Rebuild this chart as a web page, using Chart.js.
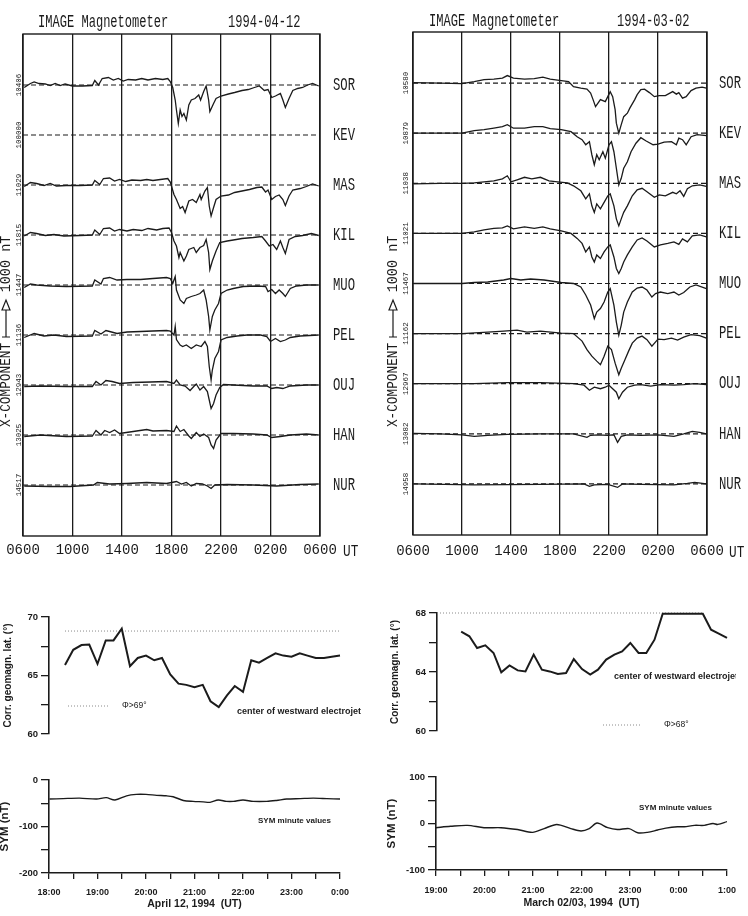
<!DOCTYPE html>
<html><head><meta charset="utf-8">
<script src="https://cdn.jsdelivr.net/npm/chart.js@4.4.1/dist/chart.umd.min.js"></script>
<style>
html,body{margin:0;padding:0;background:#fff}
body{width:748px;height:916px;position:relative;overflow:hidden}
canvas{position:absolute}
</style></head><body>
<canvas id="magApr" width="374" height="570" style="left:0;top:0"></canvas>
<canvas id="magMar" width="374" height="570" style="left:374px;top:0"></canvas>
<canvas id="latApr" width="374" height="160" style="left:0;top:595px"></canvas>
<canvas id="symApr" width="374" height="146" style="left:0;top:770px"></canvas>
<canvas id="latMar" width="374" height="160" style="left:374px;top:590px"></canvas>
<canvas id="symMar" width="374" height="151" style="left:374px;top:765px"></canvas>
<script>
// ---------------- data ----------------
const stations = ['SOR','KEV','MAS','KIL','MUO','PEL','OUJ','HAN','NUR'];
const aprBaseNums = ['10406','100000','11029','11815','11447','11136','12943','13025','14517'];
const marBaseNums = ['10580','10879','11038','11021','11467','11162','12967','13082','14958'];
const hourTicks = [0,4,8,12,16,20,24];            // hours after 06 UT
const hourLabels = ['0600','1000','1400','1800','2200','0200','0600'];
const STEP = 1000;                                  // nT between station baselines

// X-component deviations, [hours after 06 UT, nT]
const aprSOR = [[0.1,-50],[0.6,30],[0.9,60],[1.3,30],[1.8,20],[2.2,-10],[2.6,30],[3.0,-10],[3.4,20],[4.0,-20],[4.8,-20],[5.6,-10],[5.8,90],[6.1,0],[6.4,130],[6.9,150],[7.3,100],[7.7,130],[8.1,80],[8.5,110],[9.1,100],[9.6,130],[10.1,100],[10.7,130],[11.3,110],[11.7,130],[11.9,70],[12.1,-50],[12.3,-300],[12.4,-500],[12.55,-770],[12.7,-500],[12.85,-630],[13.0,-570],[13.2,-700],[13.4,-400],[13.6,-300],[13.9,-270],[14.2,-200],[14.35,-300],[14.6,-130],[14.8,-20],[15.0,-300],[15.1,-530],[15.4,-370],[15.6,-270],[16.0,-220],[16.6,-180],[17.1,-150],[17.7,-110],[18.2,-90],[18.7,-50],[19.1,-20],[19.5,-110],[19.8,-90],[20.1,-250],[20.4,-220],[20.8,-170],[21.0,-300],[21.2,-450],[21.5,-270],[21.8,-110],[22.2,-70],[22.6,-50],[23.0,0],[23.4,30],[23.9,-20]];
const aprKEV = [];
const aprMAS = [[0.1,-30],[0.6,50],[1.1,30],[1.7,-10],[2.2,30],[2.7,-20],[3.5,-10],[4.6,-10],[5.6,0],[5.8,90],[6.2,10],[6.5,130],[7.0,140],[7.4,80],[7.8,110],[8.3,70],[8.8,100],[9.5,90],[10.0,110],[10.5,90],[11.1,110],[11.7,130],[11.9,60],[12.2,-190],[12.4,-290],[12.7,-470],[12.9,-430],[13.1,-550],[13.4,-320],[13.7,-290],[14.0,-350],[14.3,-190],[14.4,-290],[14.7,-120],[14.9,-50],[15.05,-420],[15.2,-620],[15.4,-450],[15.6,-290],[16.0,-220],[16.6,-200],[17.1,-150],[17.7,-120],[18.3,-90],[18.9,-50],[19.3,-40],[19.6,-140],[19.8,-100],[20.1,-290],[20.4,-230],[20.7,-200],[21.0,-290],[21.2,-410],[21.5,-220],[21.8,-100],[22.4,-70],[22.9,-30],[23.4,20],[23.9,-20]];
const aprKIL = [[0.1,-20],[0.6,50],[1.1,30],[1.8,-10],[2.5,10],[3.3,-20],[4.6,-10],[5.6,0],[5.8,100],[6.2,10],[6.5,130],[7.0,140],[7.4,80],[7.8,110],[8.4,80],[8.9,110],[9.6,90],[10.1,130],[10.8,100],[11.3,130],[11.8,140],[12.0,50],[12.2,-120],[12.4,-220],[12.6,-450],[12.7,-350],[13.0,-520],[13.2,-420],[13.4,-290],[13.8,-250],[14.0,-350],[14.3,-250],[14.6,-210],[14.8,-90],[15.0,-350],[15.1,-690],[15.3,-520],[15.6,-320],[15.9,-150],[16.5,-120],[17.0,-100],[17.7,-70],[18.6,-50],[19.3,-30],[19.6,-120],[19.9,-220],[20.2,-190],[20.5,-290],[20.8,-120],[21.0,-250],[21.2,-370],[21.5,-90],[22.0,-30],[22.6,-10],[23.3,30],[23.9,-10]];
const aprMUO = [[0.1,-50],[0.6,20],[1.1,0],[2.2,-20],[3.5,-30],[5.6,-20],[5.8,100],[6.3,20],[6.5,130],[7.0,150],[7.6,100],[8.4,110],[9.5,110],[10.5,130],[11.6,150],[11.9,130],[12.1,30],[12.3,170],[12.4,-100],[12.7,-300],[13.0,-370],[13.2,-270],[13.6,-230],[14.0,-200],[14.3,-170],[14.6,-100],[14.8,-300],[15.0,-630],[15.1,-900],[15.3,-630],[15.5,-500],[15.8,-370],[16.0,-170],[16.5,-100],[17.0,-70],[17.8,-30],[18.9,-20],[19.6,-30],[19.8,-130],[20.1,-90],[20.4,-170],[20.7,-100],[21.0,-170],[21.2,-230],[21.6,-70],[22.1,-20],[22.9,0],[23.9,0]];
const aprPEL = [[0.1,-50],[0.9,30],[1.7,-20],[2.5,0],[3.5,-30],[5.6,-20],[5.8,90],[6.3,20],[6.7,90],[7.0,70],[7.6,30],[8.4,60],[9.5,70],[10.5,80],[11.6,90],[11.9,80],[12.2,0],[12.3,170],[12.4,-90],[12.7,-200],[12.9,-230],[13.2,-200],[13.6,-270],[14.0,-200],[14.4,-230],[14.7,-130],[14.9,-230],[15.05,-630],[15.2,-900],[15.3,-700],[15.5,-470],[15.8,-330],[16.0,-100],[16.5,-50],[17.3,-20],[18.1,0],[19.2,0],[19.7,-30],[20.0,-130],[20.4,-70],[20.8,-130],[21.2,-100],[21.6,-50],[22.4,-20],[23.9,0]];
const aprOUJ = [[0.1,-30],[1.4,-20],[3.5,-30],[5.6,-30],[5.9,70],[6.3,0],[6.7,90],[7.2,70],[7.8,30],[8.9,50],[10.3,60],[11.6,70],[12.2,30],[12.4,100],[12.7,0],[13.1,-20],[13.5,-110],[13.8,-30],[14.0,20],[14.3,-100],[14.6,-30],[14.9,-130],[15.05,-300],[15.2,-470],[15.4,-370],[15.6,-200],[15.9,-50],[16.2,10],[17.0,0],[18.6,-20],[19.7,-20],[20.1,-70],[20.5,-50],[21.0,-70],[21.6,-20],[22.9,0],[23.9,0]];
const aprHAN = [[0.1,-30],[1.4,0],[3.5,-30],[5.6,-20],[5.9,90],[6.3,0],[6.6,90],[7.0,50],[7.4,100],[7.8,30],[8.9,70],[10.0,110],[10.5,80],[11.6,90],[12.2,70],[12.4,180],[12.7,70],[13.0,110],[13.4,-20],[13.6,-70],[14.0,50],[14.3,-30],[14.6,20],[15.0,-50],[15.2,-200],[15.4,-270],[15.6,-100],[16.0,30],[17.0,30],[18.6,20],[19.7,0],[20.1,-50],[20.8,-30],[21.6,0],[22.9,20],[23.9,0]];
const aprNUR = [[0.1,-20],[2.2,-30],[3.8,-30],[5.7,0],[6.0,50],[7.0,20],[8.4,30],[10.0,50],[11.6,30],[12.4,70],[12.8,20],[13.2,50],[13.6,-20],[14.0,30],[14.5,20],[14.9,-20],[15.2,-70],[15.5,0],[16.5,10],[18.6,0],[20.5,-20],[22.4,10],[23.9,20]];

const marSOR = [[0.05,10],[2.2,0],[4.0,-10],[5.0,30],[5.8,70],[6.6,80],[7.3,100],[7.7,150],[8.2,100],[9.1,80],[9.9,90],[10.6,120],[11.2,80],[12.1,50],[12.7,30],[13.1,-70],[13.7,-100],[14.2,-120],[14.5,-200],[14.7,-330],[14.9,-470],[15.1,-400],[15.3,-330],[15.7,-370],[15.9,-270],[16.1,-170],[16.3,-270],[16.5,-530],[16.6,-800],[16.8,-1000],[17.0,-830],[17.2,-670],[17.5,-600],[17.7,-500],[18.1,-330],[18.3,-230],[18.6,-130],[18.9,-120],[19.3,-190],[19.7,-270],[20.1,-250],[20.6,-250],[21.2,-170],[21.5,-220],[21.7,-190],[22.0,-300],[22.3,-270],[22.7,-150],[23.1,-100],[23.6,-80],[23.95,-100]];
const marKEV = [[0.05,0],[2.2,0],[4.0,0],[5.0,50],[5.8,70],[6.6,100],[7.3,130],[7.7,170],[8.2,100],[9.1,100],[9.9,130],[10.6,130],[11.2,90],[12.1,70],[12.9,30],[13.4,-70],[13.8,-130],[14.1,-230],[14.4,-170],[14.6,-430],[14.8,-630],[15.0,-430],[15.2,-530],[15.5,-370],[15.7,-500],[16.0,-230],[16.2,-170],[16.4,-370],[16.6,-700],[16.8,-1030],[17.0,-900],[17.2,-700],[17.5,-570],[17.8,-370],[18.2,-200],[18.6,-90],[19.0,-150],[19.6,-230],[20.0,-220],[20.5,-180],[21.1,-170],[21.5,-230],[21.7,-100],[22.0,-130],[22.3,-230],[22.7,-70],[23.2,-30],[23.95,-50]];
const marMAS = [[0.05,-10],[2.2,0],[4.0,0],[5.0,10],[5.8,30],[6.6,50],[7.3,90],[7.7,150],[8.0,30],[8.5,70],[9.1,120],[9.7,90],[10.4,120],[11.1,50],[11.8,30],[12.6,10],[13.1,-50],[13.7,-150],[14.1,-310],[14.4,-210],[14.6,-450],[14.8,-580],[15.0,-410],[15.3,-510],[15.6,-380],[15.9,-250],[16.1,-210],[16.4,-450],[16.6,-710],[16.8,-850],[17.0,-710],[17.2,-580],[17.5,-450],[17.9,-250],[18.3,-130],[18.7,-100],[19.1,-170],[19.7,-280],[20.1,-230],[20.6,-250],[21.2,-180],[21.5,-210],[21.8,-150],[22.1,-260],[22.4,-110],[22.8,-50],[23.4,-30],[23.95,-60]];
const marKIL = [[0.05,0],[4.0,0],[5.0,30],[5.8,70],[6.6,100],[7.3,110],[7.7,150],[8.2,90],[9.1,130],[9.9,100],[10.6,130],[11.2,90],[12.1,50],[12.9,0],[13.4,-100],[13.8,-200],[14.1,-370],[14.4,-270],[14.6,-470],[14.8,-570],[15.0,-430],[15.3,-500],[15.6,-370],[15.9,-270],[16.1,-230],[16.4,-470],[16.6,-700],[16.8,-800],[17.0,-700],[17.2,-570],[17.5,-430],[17.9,-270],[18.3,-130],[18.7,-90],[19.1,-150],[19.7,-270],[20.2,-230],[20.8,-200],[21.3,-170],[21.7,-220],[22.0,-110],[22.4,-170],[22.8,-50],[23.4,-30],[23.95,-70]];
const marMUO = [[0.05,0],[4.0,0],[5.0,20],[6.1,30],[7.4,70],[8.0,100],[8.8,70],[9.6,90],[10.7,70],[12.1,20],[13.1,0],[13.7,-70],[14.1,-230],[14.5,-430],[14.8,-700],[15.0,-570],[15.3,-500],[15.6,-370],[15.9,-170],[16.1,-100],[16.4,-430],[16.6,-770],[16.8,-1030],[17.0,-830],[17.2,-570],[17.5,-370],[17.9,-170],[18.3,-90],[18.7,-70],[19.1,-130],[19.5,-270],[19.8,-200],[20.2,-170],[20.8,-200],[21.3,-170],[21.7,-230],[22.1,-180],[22.6,-70],[23.1,-30],[23.95,-100]];
const marPEL = [[0.05,0],[4.0,0],[6.1,30],[7.4,50],[8.5,70],[9.3,30],[10.4,50],[12.1,10],[13.1,0],[13.8,-150],[14.2,-320],[14.6,-450],[15.0,-550],[15.3,-620],[15.6,-450],[15.9,-250],[16.2,-320],[16.5,-590],[16.8,-820],[17.0,-690],[17.3,-520],[17.6,-350],[17.9,-190],[18.3,-90],[18.7,-50],[19.1,-120],[19.5,-250],[20.0,-110],[20.5,-120],[21.1,-90],[21.6,-130],[22.1,-70],[22.7,-20],[23.4,-40],[23.95,-90]];
const marOUJ = [[0.05,0],[5.0,0],[7.7,20],[10.4,20],[13.1,0],[13.96,-30],[14.4,-130],[14.8,-70],[15.3,-100],[15.7,-70],[16.0,-30],[16.3,-100],[16.6,-170],[16.8,-300],[17.1,-170],[17.5,-70],[18.1,-30],[18.6,-20],[19.4,-50],[20.2,-20],[21.3,-30],[22.1,-20],[23.0,0],[23.95,-20]];
const marHAN = [[0.05,10],[2.2,0],[4.0,-20],[5.0,-50],[6.1,-30],[7.7,-10],[10.4,0],[13.1,0],[14.2,-70],[14.5,-30],[15.1,-20],[15.9,-30],[16.4,-20],[16.7,-170],[17.0,-50],[17.5,-20],[18.6,-30],[20.0,-20],[21.3,-50],[22.1,0],[22.8,50],[23.4,30],[23.95,0]];
const marNUR = [[0.05,0],[5.0,-20],[10.4,-10],[13.96,0],[14.4,-50],[14.8,-20],[15.9,-10],[16.7,-70],[17.1,0],[18.6,-10],[21.3,-20],[22.4,10],[23.0,30],[23.95,0]];

// Electrojet centre latitude (10-min values), UT hours
const aprLatTime = [18.33,18.5,18.67,18.83,19,19.17,19.33,19.5,19.67,19.83,20,20.17,20.33,20.5,20.67,20.83,21,21.17,21.33,21.5,21.67,21.83,22,22.17,22.33,22.5,22.67,22.83,23,23.17,23.33,23.5,23.67,23.83,24];
const aprLat = [65.9,67.2,67.6,67.65,66.0,68.0,68.0,69.0,65.8,66.5,66.7,66.3,66.5,65.1,64.3,64.2,64.0,64.2,62.8,62.3,63.3,64.1,63.6,66.3,66.1,66.5,66.9,66.7,66.6,66.9,66.7,66.5,66.5,66.6,66.7];
const aprLimit = 68.8;
const marLatTime = [19.5,19.67,19.83,20,20.17,20.33,20.5,20.67,20.83,21,21.17,21.33,21.5,21.67,21.83,22,22.17,22.33,22.5,22.67,22.83,23,23.17,23.33,23.5,23.67,23.83,24,24.17,24.33,24.5,24.67,24.83,25];
const marLat = [66.73,66.42,65.63,65.81,65.29,63.98,64.45,64.11,64.04,65.18,64.16,64.04,63.86,63.93,64.88,64.20,63.82,64.16,64.84,65.18,65.40,65.97,65.29,65.29,66.19,67.95,67.95,67.95,67.95,67.95,67.95,66.87,66.60,66.31];
const marLimit = 68;

// SYM-H index
const aprSymTime = [18.01,18.29,18.63,18.98,19.18,19.36,19.6,19.8,20.0,20.22,20.42,20.56,20.77,20.97,21.18,21.32,21.49,21.66,21.8,22.0,22.21,22.49,22.69,22.9,23.18,23.45,23.73,24.0];
const aprSym = [-41,-40,-39,-41,-38,-43,-34,-31,-31,-33,-34,-36,-44,-46,-47,-48,-43,-46,-46,-43,-46,-46,-44,-41,-40,-39,-40,-41];
const marSymTime = [19.0,19.3,19.65,19.99,20.34,20.68,20.99,21.23,21.49,21.78,21.99,22.16,22.32,22.54,22.74,22.98,23.16,23.36,23.57,23.74,23.98,24.12,24.33,24.53,24.71,24.81,25.0];
const marSym = [-9,-6,-4,-9,-9,-13,-19,-11,-2,-11,-16,-11,1,-9,-13,-11,-20,-19,-14,-10,-7,-7,-4,-4,0,-2,4];

// ---------------- drawing ----------------
const INK = '#1b1b1b';
const MONO = "'Liberation Mono', 'DejaVu Sans Mono', monospace";
const SANS = "'Liberation Sans', Arial, sans-serif";
Chart.defaults.font.family = SANS;
Chart.defaults.color = INK;

function drawText(ctx, s, x, y, font, o) {
  o = o || {};
  ctx.save();
  ctx.font = font; ctx.fillStyle = o.color || INK;
  ctx.textAlign = o.align || 'left'; ctx.textBaseline = 'middle';
  ctx.translate(x, y);
  if (o.rot) ctx.rotate(o.rot);
  if (o.sx) ctx.scale(o.sx, 1);
  ctx.fillText(s, 0, 0);
  ctx.restore();
}

function magDeco(L, nums, date) {
  return {
    id: 'magDeco',
    afterDraw(chart) {
      const {ctx, chartArea: a, scales: {y}} = chart;
      ctx.save();
      ctx.strokeStyle = INK; ctx.lineWidth = 1.4;
      ctx.strokeRect(a.left, a.top, a.right - a.left, a.bottom - a.top);
      drawText(ctx, 'IMAGE Magnetometer', L.titleX, L.titleY, '18px ' + MONO, {sx: 0.67});
      drawText(ctx, date, L.dateX, L.titleY, '18px ' + MONO, {sx: 0.67});
      stations.forEach((s, i) => {
        const py = y.getPixelForValue(-STEP * i);
        drawText(ctx, s, L.labelX, py, '18px ' + MONO, {sx: 0.68});
        drawText(ctx, nums[i], L.numX, py, '7.5px ' + MONO, {rot: -Math.PI / 2, align: 'center'});
      });
      drawText(ctx, 'UT', L.utX, L.utY, '17px ' + MONO, {sx: 0.75});
      const cx = L.compX;
      drawText(ctx, 'X-COMPONENT', cx, 385, '15px ' + MONO, {rot: -Math.PI / 2, align: 'center', sx: 0.85});
      ctx.lineWidth = 1.2;
      ctx.beginPath();
      ctx.moveTo(cx - 4, 337); ctx.lineTo(cx + 4, 337);
      ctx.moveTo(cx, 337); ctx.lineTo(cx, 310);
      ctx.moveTo(cx - 4, 310); ctx.lineTo(cx + 4, 310); ctx.lineTo(cx, 300); ctx.closePath();
      ctx.stroke();
      drawText(ctx, '1000 nT', cx, 264, '15px ' + MONO, {rot: -Math.PI / 2, align: 'center', sx: 0.9});
      ctx.restore();
    }
  };
}

function magChart(id, traces, nums, date, L) {
  const datasets = [];
  traces.forEach((tr, i) => datasets.push({
    data: tr.map(p => ({x: p[0], y: p[1] - STEP * i})),
    borderColor: INK, borderWidth: 1.3, pointRadius: 0, tension: 0
  }));
  stations.forEach((s, i) => datasets.push({
    data: [{x: 0, y: -STEP * i}, {x: 24, y: -STEP * i}],
    borderColor: INK, borderWidth: 1.2, borderDash: [5, 3], pointRadius: 0
  }));
  new Chart(document.getElementById(id), {
    type: 'line',
    data: {datasets},
    options: {
      responsive: false, animation: false, events: [],
      layout: {padding: {left: L.pl, right: L.pr, top: L.pt, bottom: 0}},
      plugins: {legend: {display: false}, tooltip: {enabled: false}},
      scales: {
        x: {
          type: 'linear', min: 0, max: 24,
          afterFit: s => { s.height = L.ah; },
          ticks: {stepSize: 4, autoSkip: false, maxRotation: 0, padding: L.tp, color: INK,
            font: {family: MONO, size: 14},
            callback: v => { const k = hourTicks.indexOf(v); return k < 0 ? '' : hourLabels[k]; }},
          grid: {color: INK, lineWidth: 1.3, drawTicks: false},
          border: {display: false}
        },
        y: {type: 'linear', display: false, min: -9020, max: 1020}
      }
    },
    plugins: [magDeco(L, nums, date)]
  });
}

magChart('magApr', [aprSOR, aprKEV, aprMAS, aprKIL, aprMUO, aprPEL, aprOUJ, aprHAN, aprNUR], aprBaseNums, '1994-04-12',
  {pl: 23, pr: 54, pt: 34, ah: 34, tp: 6, titleX: 38, dateX: 228, titleY: 22, labelX: 333, numX: 19, utX: 343, utY: 551, compX: 6});
magChart('magMar', [marSOR, marKEV, marMAS, marKIL, marMUO, marPEL, marOUJ, marHAN, marNUR], marBaseNums, '1994-03-02',
  {pl: 39, pr: 41, pt: 32, ah: 35, tp: 8, titleX: 55, dateX: 243, titleY: 21, labelX: 345, numX: 32, utX: 355, utY: 552, compX: 19});

function notes(ox, oy, items) {
  return {
    id: 'notes',
    afterDraw(chart) {
      const ctx = chart.ctx;
      items.forEach(it => {
        ctx.save();
        if (it.kind === 'dots') {
          ctx.strokeStyle = '#8a8a8a'; ctx.lineWidth = 1; ctx.setLineDash([1, 2]);
          ctx.beginPath(); ctx.moveTo(it.x1 - ox, it.y - oy); ctx.lineTo(it.x2 - ox, it.y - oy); ctx.stroke();
        } else {
          if (it.clip) { ctx.beginPath(); ctx.rect(0, 0, it.clip - ox, chart.height); ctx.clip(); }
          drawText(ctx, it.s, it.x - ox, it.y - oy, it.font);
        }
        ctx.restore();
      });
    }
  };
}

function yAxis(min, max, step, every, width, title, tsize, tpad) {
  return {
    type: 'linear', min, max,
    afterFit: s => { s.width = width; },
    ticks: {stepSize: step, autoSkip: false, padding: 3, color: INK, font: {size: 9.5, weight: 'bold'},
      callback: v => Math.abs(v % every) < 1e-6 ? String(v) : ''},
    grid: {drawOnChartArea: false, color: INK, lineWidth: 1.3, tickLength: 8},
    border: {color: INK, width: 1.6},
    title: {display: true, text: title, color: INK, font: {size: tsize, weight: 'bold'}, padding: {top: tpad, bottom: 0}}
  };
}
function xTime(min, max, height, title, tpb, lp) {
  return {
    type: 'linear', min, max,
    afterFit: s => { s.height = height; },
    ticks: {stepSize: 0.5, autoSkip: false, maxRotation: 0, padding: lp, color: INK, font: {size: 9, weight: 'bold'},
      callback: v => Number.isInteger(v) ? (v % 24) + ':00' : ''},
    grid: {drawOnChartArea: false, color: INK, lineWidth: 1.3, tickLength: 6},
    border: {color: INK, width: 1.6},
    title: {display: true, text: title, color: INK, font: {size: 10.5, weight: 'bold'}, padding: {top: 0, bottom: tpb}}
  };
}
const baseOpts = (pad) => ({responsive: false, animation: false, events: [], layout: {padding: pad},
  plugins: {legend: {display: false}, tooltip: {enabled: false}}});

function latChart(id, ox, oy, times, lat, limit, limitFrom, limitTo, xmin, xmax, pad, yax, items) {
  const o = baseOpts(pad);
  o.scales = {x: {type: 'linear', display: false, min: xmin, max: xmax}, y: yax};
  new Chart(document.getElementById(id), {
    type: 'line',
    data: {datasets: [
      {data: times.map((t, i) => ({x: t, y: lat[i]})), borderColor: INK, borderWidth: 2, pointRadius: 0, tension: 0, clip: false},
      {data: [{x: limitFrom, y: limit}, {x: limitTo, y: limit}], borderColor: '#8a8a8a', borderWidth: 1, borderDash: [1, 2], pointRadius: 0, clip: false}
    ]},
    options: o,
    plugins: [notes(ox, oy, items)]
  });
}
function symChart(id, ox, oy, times, sym, pad, xax, yax, items) {
  const o = baseOpts(pad);
  o.scales = {x: xax, y: yax};
  new Chart(document.getElementById(id), {
    type: 'line',
    data: {datasets: [
      {data: times.map((t, i) => ({x: t, y: sym[i]})), borderColor: INK, borderWidth: 1.4, pointRadius: 0, tension: 0.3}
    ]},
    options: o,
    plugins: [notes(ox, oy, items)]
  });
}

latChart('latApr', 0, 595, aprLatTime, aprLat, aprLimit, 18.33, 24, 18, 24,
  {left: 0, right: 34, top: 22, bottom: 21},
  yAxis(60, 70, 2.5, 5, 49, 'Corr. geomagn. lat. (°)', 10, 2),
  [{kind: 'dots', x1: 68, x2: 110, y: 706},
   {s: 'Φ>69°', x: 122, y: 706, font: '8.5px ' + SANS},
   {s: 'center of westward electrojet', x: 237, y: 712, font: 'bold 9px ' + SANS}]);

symChart('symApr', 0, 770, aprSymTime, aprSym,
  {left: 0, right: 34, top: 10, bottom: 0},
  xTime(18, 24, 43, 'April 12, 1994  (UT)', 5.4, 8.3),
  yAxis(-200, 0, 50, 100, 49, 'SYM (nT)', 11.5, -2.5),
  [{s: 'SYM minute values', x: 258, y: 821, font: 'bold 8px ' + SANS}]);

latChart('latMar', 374, 590, marLatTime, marLat, marLimit, 19, 24.5, 19, 25,
  {left: 0, right: 21, top: 23, bottom: 19},
  yAxis(60, 68, 2, 4, 63, 'Corr. geomagn. lat. (°)', 10, 15),
  [{kind: 'dots', x1: 603, x2: 641, y: 725},
   {s: 'Φ>68°', x: 664, y: 725, font: '8.5px ' + SANS},
   {s: 'center of westward electrojet', x: 614, y: 677, font: 'bold 9px ' + SANS, clip: 736}]);

symChart('symMar', 374, 765, marSymTime, marSym,
  {left: 0, right: 21, top: 12, bottom: 0},
  xTime(19, 25, 46, 'March 02/03, 1994  (UT)', 6.4, 9.3),
  yAxis(-100, 100, 50, 100, 62, 'SYM (nT)', 11.5, 11),
  [{s: 'SYM minute values', x: 639, y: 808, font: 'bold 8px ' + SANS}]);
</script>
</body></html>
